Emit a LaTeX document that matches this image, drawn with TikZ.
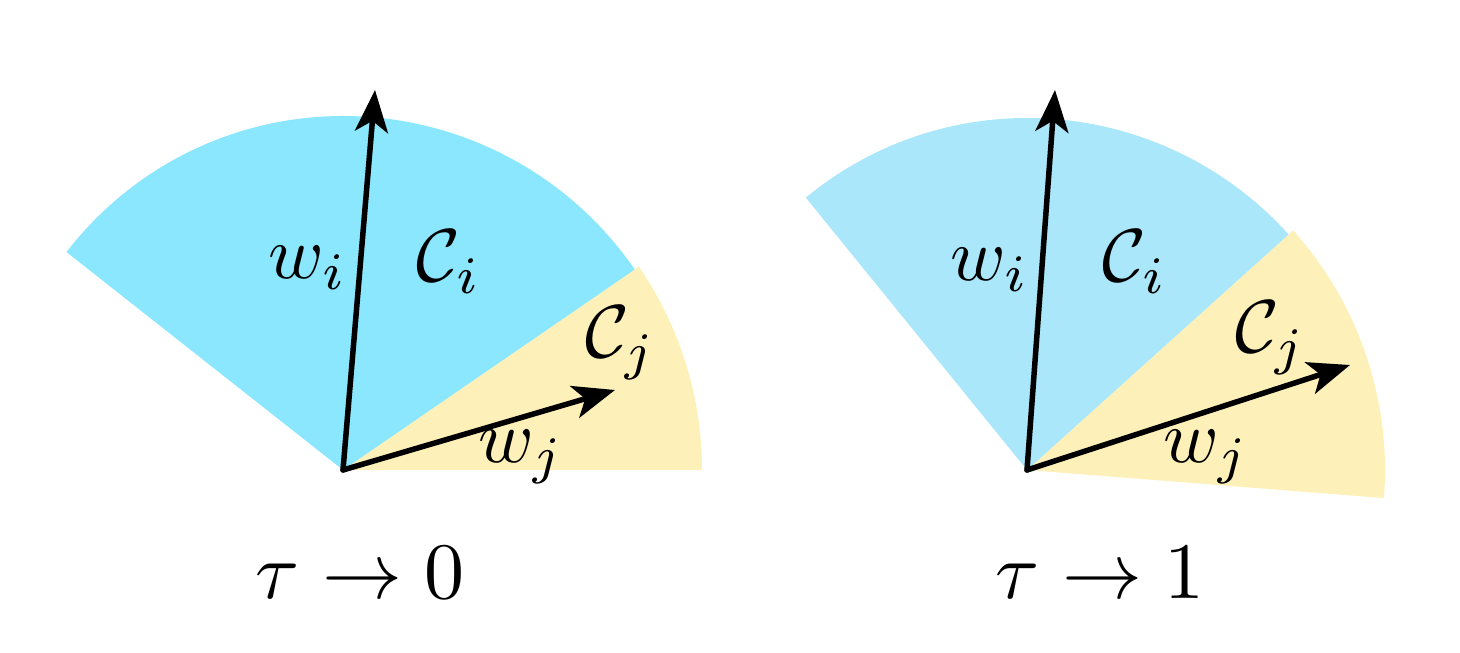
\documentclass[tikz,border=0pt]{standalone}
\usetikzlibrary{arrows.meta}
\definecolor{blueA}{HTML}{8BE7FD}
\definecolor{blueB}{HTML}{ABE7FA}
\definecolor{yel}{HTML}{FEF0B9}
\begin{document}
\begin{tikzpicture}[x=1pt,y=1pt,
  vec/.style={line width=5.5pt,line join=round,line cap=round,-{Stealth[length=42pt,width=33pt,inset=11pt]}},
  lab/.style={inner sep=0pt,scale=7.5},
  captxt/.style={inner sep=0pt,scale=8}]
\useasboundingbox (0,0) rectangle (1460,653);
% left
\coordinate (O1) at (343,183);
\fill[yel] (O1) -- ++(0:359) arc[start angle=0,end angle=34.5,radius=359] -- cycle;
\fill[blueA] (O1) -- ++(34.5:354) arc[start angle=34.5,end angle=90,radius=354] arc[start angle=90,end angle=142.4,radius=349] -- cycle;
\coordinate (wi1) at (375,563);
\coordinate (wj1) at (615,263);
\draw[vec] (O1) -- (wi1);
\draw[vec] (O1) -- (wj1);
\node[lab] (lwi1) at (308,385) {$w_i$};
\node[lab] (lci1) at (449,391) {$\mathcal{C}_i$};
\node[lab] (lcj1) at (621,310) {$\mathcal{C}_j$};
\node[lab] (lwj1) at (521,196) {$w_j$};
\node[captxt] (t1) at (360,80) {$\tau\to0$};
% right
\coordinate (O2) at (1027,183);
\fill[yel] (O2) -- ++(-4.5:358) arc[start angle=-4.5,end angle=42,radius=358] -- cycle;
\fill[blueB] (O2) -- ++(42:352) arc[start angle=42,end angle=90,radius=352] arc[start angle=90,end angle=129.6,radius=347] -- cycle;
\coordinate (wi2) at (1055,563);
\coordinate (wj2) at (1350,288);
\draw[vec] (O2) -- (wi2);
\draw[vec] (O2) -- (wj2);
\node[lab] (lwi2) at (990,383) {$w_i$};
\node[lab] (lci2) at (1135,391) {$\mathcal{C}_i$};
\node[lab] (lcj2) at (1271,315) {$\mathcal{C}_j$};
\node[lab] (lwj2) at (1206,196) {$w_j$};
\node[captxt] (t2) at (1100,80) {$\tau\to1$};
\end{tikzpicture}
\end{document}
